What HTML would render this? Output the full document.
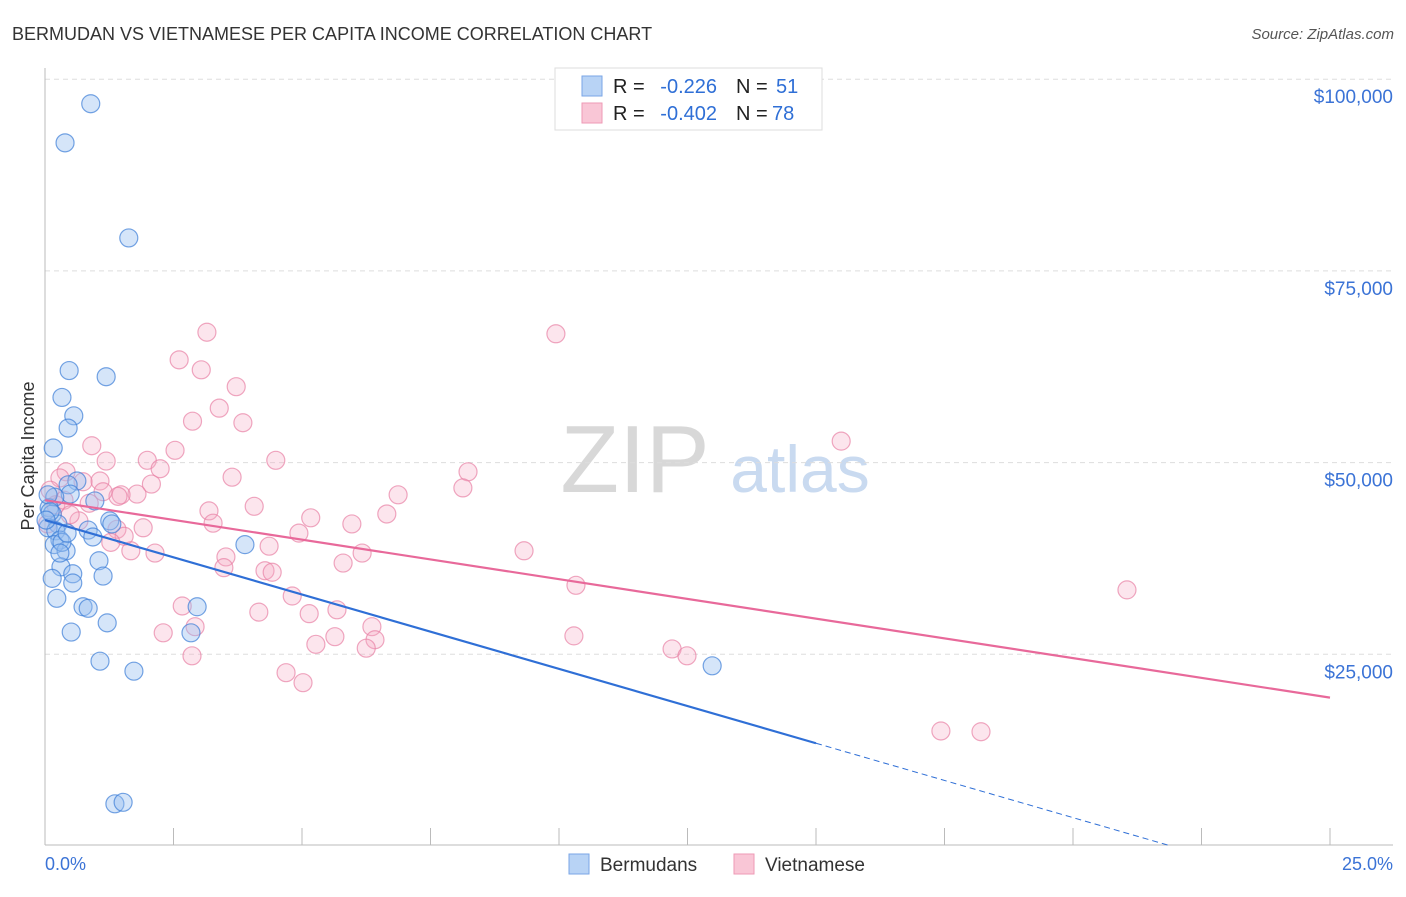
<!DOCTYPE html>
<html><head><meta charset="utf-8"><style>
body{margin:0;background:#fff;font-family:"Liberation Sans",sans-serif}
svg text{font-family:"Liberation Sans",sans-serif}
</style></head><body>
<svg id="c" width="1406" height="892" xmlns="http://www.w3.org/2000/svg">
<text x="12" y="40" font-size="18" fill="#333">BERMUDAN VS VIETNAMESE PER CAPITA INCOME CORRELATION CHART</text>
<text x="1394" y="39" font-size="15" fill="#555" font-style="italic" text-anchor="end">Source: ZipAtlas.com</text>
<text x="635" y="492" font-size="96" fill="#d8d8d8" font-family="Liberation Serif" text-anchor="middle">ZIP</text>
<text x="800" y="492" font-size="66" fill="#c9daf0" text-anchor="middle">atlas</text>
<text transform="translate(34,456) rotate(-90)" font-size="18" fill="#333" text-anchor="middle">Per Capita Income</text>
<g id="grid"></g><g id="pts"></g><g id="lines"></g>
<g>
<rect x="555" y="68" width="267" height="62" fill="#fff" stroke="#ddd"/>
<rect x="582" y="76" width="20" height="20" fill="#b8d3f5" stroke="#7aa6e6"/>
<rect x="582" y="103" width="20" height="20" fill="#f9c6d6" stroke="#ee9ab5"/>
<text x="613" y="93" font-size="20" fill="#222">R =</text>
<text x="717" y="93" font-size="20" fill="#2f6fd6" text-anchor="end">-0.226</text>
<text x="736" y="93" font-size="20" fill="#222">N =</text>
<text x="776" y="93" font-size="20" fill="#2f6fd6">51</text>
<text x="613" y="120" font-size="20" fill="#222">R =</text>
<text x="717" y="120" font-size="20" fill="#2f6fd6" text-anchor="end">-0.402</text>
<text x="736" y="120" font-size="20" fill="#222">N =</text>
<text x="772" y="120" font-size="20" fill="#2f6fd6">78</text>
</g>
<text x="45" y="870" font-size="18" fill="#3b73d6">0.0%</text>
<text x="1393" y="870" font-size="18" fill="#3b73d6" text-anchor="end">25.0%</text>
<g>
<rect x="569" y="854" width="20" height="20" fill="#b8d3f5" stroke="#7aa6e6"/>
<text x="600" y="871" font-size="19" fill="#333">Bermudans</text>
<rect x="734" y="854" width="20" height="20" fill="#f9c6d6" stroke="#ee9ab5"/>
<text x="765" y="871" font-size="19" fill="#333">Vietnamese</text>
</g>
</svg>
<script>
const yTicks=[25000,50000,75000,100000];
const yTickLabels=["$25,000","$50,000","$75,000","$100,000"];
const xTicks=[0,2.5,5,7.5,10,12.5,15,17.5,20,22.5,25];
const bermX=[0.89,0.39,1.63,0.47,1.19,0.33,0.56,0.45,0.16,0.62,0.45,0.49,0.19,0.97,0.08,0.14,1.26,0.25,0.06,1.30,0.84,0.21,0.93,0.29,0.18,0.41,0.33,3.89,1.05,0.31,0.54,1.13,0.14,0.54,0.23,0.74,0.84,2.96,1.21,0.51,2.84,1.07,1.73,12.98,1.36,1.52,0.06,0.10,0.02,0.43,0.29];
const bermY=[96.8,91.7,79.3,62.0,61.2,58.5,56.1,54.5,51.9,47.6,47.1,45.9,45.5,45.0,44.1,43.3,42.4,42.0,41.5,42.0,41.2,41.1,40.3,39.9,39.3,38.5,39.6,39.3,37.2,36.4,35.5,35.2,34.9,34.3,32.3,31.2,31.0,31.2,29.1,27.9,27.8,24.1,22.8,23.5,5.5,5.7,45.8,43.6,42.5,40.8,38.2];
const vietX=[3.15,9.94,2.61,3.04,3.72,3.39,2.87,3.85,15.49,2.53,0.91,1.99,1.19,4.49,2.24,0.41,8.23,3.64,0.29,1.07,0.74,2.07,8.13,1.79,1.48,1.42,6.87,1.13,0.86,4.07,3.19,6.65,5.17,0.66,3.27,5.97,1.91,1.40,4.94,1.54,1.28,4.36,1.67,2.14,6.17,9.32,3.52,5.80,3.48,4.28,4.42,10.33,21.05,4.81,2.67,4.16,5.68,5.14,2.92,6.36,2.30,10.29,5.64,6.42,5.27,6.25,12.20,12.49,2.86,4.69,5.02,17.43,18.21,0.10,0.21,0.37,0.49,0.05];
const vietY=[67.0,66.8,63.4,62.1,59.9,57.1,55.4,55.2,52.8,51.6,52.2,50.3,50.2,50.3,49.2,48.8,48.8,48.1,48.0,47.6,47.5,47.2,46.7,45.9,45.8,45.6,45.8,46.2,44.7,44.3,43.7,43.3,42.8,42.4,42.1,42.0,41.5,41.3,40.8,40.4,39.6,39.1,38.5,38.2,38.2,38.5,37.7,36.9,36.3,35.9,35.7,34.0,33.4,32.6,31.3,30.5,30.8,30.3,28.6,28.6,27.8,27.4,27.3,26.9,26.3,25.8,25.7,24.8,24.8,22.6,21.3,15.0,14.9,46.4,44.5,45.1,43.2,42.0];
const bermTrend=[42.5,-1.94];
const vietTrend=[45.1,-1.03];
const sx=v=>45+v*51.4;
const sy=k=>846-k*1000*191.7/25000;
const NS="http://www.w3.org/2000/svg";
function mk(t,a,p){const e=document.createElementNS(NS,t);for(const k in a)e.setAttribute(k,a[k]);p.appendChild(e);return e;}
const grid=document.getElementById('grid');
yTicks.forEach((v,i)=>{
 const g=mk('line',{x1:45,x2:1393,y1:sy(v/1000),y2:sy(v/1000),stroke:'#ddd','stroke-dasharray':'5,4'},grid);
 
 
 const t=mk('text',{x:1393,y:sy(v/1000)+24,'font-size':19,fill:'#3b73d6','text-anchor':'end'},grid);
 t.textContent=yTickLabels[i];
 
 
});
const ax=mk('line',{x1:45,x2:45,y1:68,y2:845,stroke:'#bbb'},grid);


const bx=mk('line',{x1:45,x2:1393,y1:845,y2:845,stroke:'#bbb'},grid);


xTicks.forEach(v=>{
 const t=mk('line',{x1:sx(v),x2:sx(v),y1:828,y2:845,stroke:'#bbb'},grid);
 
 
});
const pts=document.getElementById('pts');
vietX.forEach((x,i)=>{
 const c=mk('circle',{cx:sx(x),cy:sy(vietY[i]),r:9,fill:'rgba(246,170,195,0.3)',stroke:'rgba(232,130,165,0.7)','stroke-width':1.2},pts);
 
 
});
bermX.forEach((x,i)=>{
 const c=mk('circle',{cx:sx(x),cy:sy(bermY[i]),r:9,fill:'rgba(150,190,240,0.4)',stroke:'rgba(60,125,215,0.7)','stroke-width':1.2},pts);
 
 
});
const L=document.getElementById('lines');
const bEnd=15, bZero=-bermTrend[0]/bermTrend[1];
let l=mk('line',{x1:sx(0),y1:sy(bermTrend[0]),x2:sx(bEnd),y2:sy(bermTrend[0]+bermTrend[1]*bEnd),stroke:'#2f6fd6','stroke-width':2.2},L);


l=mk('line',{x1:sx(bEnd),y1:sy(bermTrend[0]+bermTrend[1]*bEnd),x2:sx(bZero),y2:sy(0),stroke:'#2f6fd6','stroke-width':1,'stroke-dasharray':'6,4'},L);


l=mk('line',{x1:sx(0),y1:sy(vietTrend[0]),x2:sx(25),y2:sy(vietTrend[0]+vietTrend[1]*25),stroke:'#e8699a','stroke-width':2.2},L);


</script>
</body></html>
